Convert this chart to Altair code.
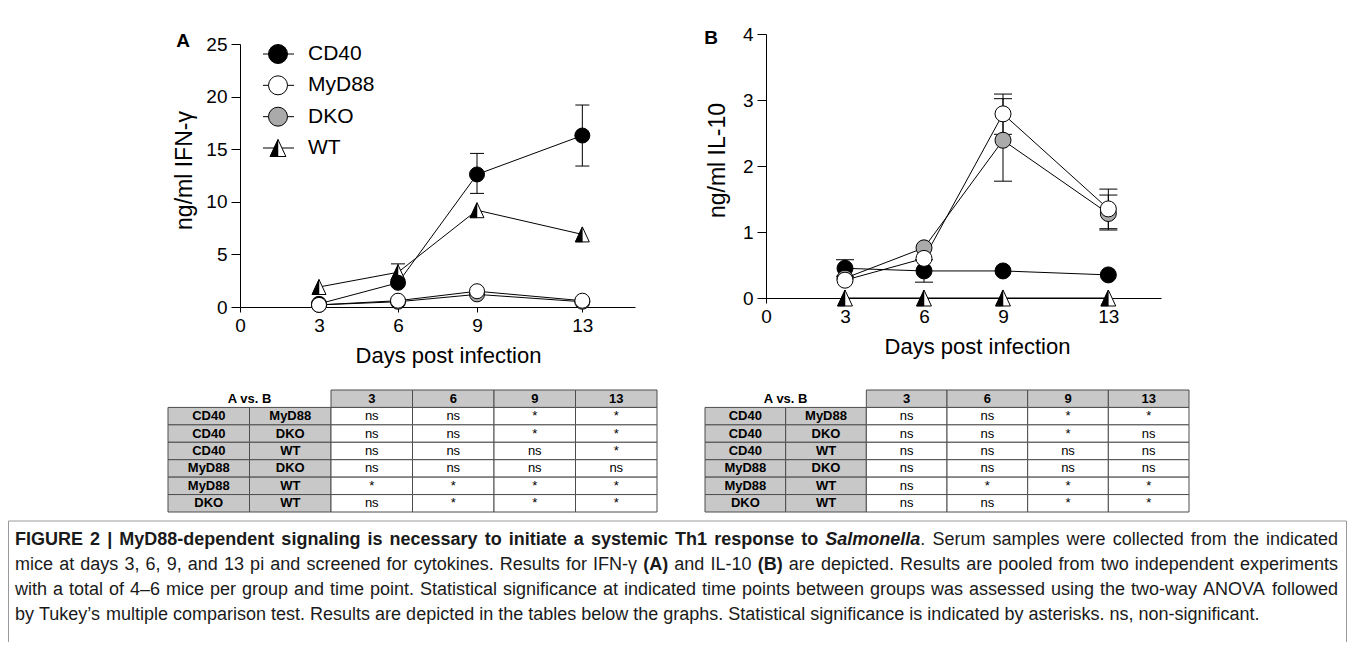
import altair as alt
import pandas as pd

FONT = "Liberation Sans"

# ---------------- data ----------------
days = [3, 6, 9, 13]
series_names = ["CD40", "MyD88", "DKO", "WT"]
draw_order = ["WT", "CD40", "DKO", "MyD88"]

# Panel A: IFN-gamma (ng/ml)
ifn_cd40 = [0.3, 2.3, 12.6, 16.3]
ifn_myd88 = [0.2, 0.6, 1.5, 0.6]
ifn_dko = [0.2, 0.5, 1.2, 0.5]
ifn_wt = [1.9, 3.3, 9.2, 6.9]

ifn_err_series = ["CD40", "CD40", "WT"]
ifn_err_day = [9, 13, 6]
ifn_err_lo = [10.8, 13.4, 2.6]
ifn_err_hi = [14.6, 19.2, 4.1]

# Panel B: IL-10 (ng/ml)
il10_cd40 = [0.45, 0.41, 0.41, 0.35]
il10_myd88 = [0.27, 0.6, 2.79, 1.35]
il10_dko = [0.3, 0.76, 2.39, 1.28]
il10_wt = [0.0, 0.0, 0.0, 0.0]

il10_err_series = ["CD40", "CD40", "MyD88", "DKO", "MyD88", "DKO"]
il10_err_day = [3, 6, 9, 9, 13, 13]
il10_err_lo = [0.33, 0.24, 2.48, 1.77, 1.05, 1.03]
il10_err_hi = [0.58, 0.58, 3.09, 3.02, 1.65, 1.56]

panel_labels = ["A", "B"]
x_ticks = [0, 3, 6, 9, 13]
ifn_ticks = [0, 5, 10, 15, 20, 25]
il10_ticks = [0, 1, 2, 3, 4]

# Tables
table_title = "A vs. B"
table_cols = ["3", "6", "9", "13"]
cmp_a = ["CD40", "CD40", "CD40", "MyD88", "MyD88", "DKO"]
cmp_b = ["MyD88", "DKO", "WT", "DKO", "WT", "WT"]
tblA_3 = ["ns", "ns", "ns", "ns", "*", "ns"]
tblA_6 = ["ns", "ns", "ns", "ns", "*", "*"]
tblA_9 = ["*", "*", "ns", "ns", "*", "*"]
tblA_13 = ["*", "*", "*", "ns", "*", "*"]
tblB_3 = ["ns", "ns", "ns", "ns", "ns", "ns"]
tblB_6 = ["ns", "ns", "ns", "ns", "*", "ns"]
tblB_9 = ["*", "*", "ns", "ns", "*", "*"]
tblB_13 = ["*", "ns", "ns", "ns", "*", "*"]

# Caption (segments with styles)
cap_line1 = [("FIGURE 2 | MyD88-dependent signaling is necessary to initiate a systemic Th1 response to ", "bold"),
             ("Salmonella", "bolditalic"),
             (". Serum samples were collected from the indicated", "normal")]
cap_line2 = [("mice at days 3, 6, 9, and 13 pi and screened for cytokines. Results for IFN-\u03b3 ", "normal"),
             ("(A)", "bold"),
             (" and IL-10 ", "normal"),
             ("(B)", "bold"),
             (" are depicted. Results are pooled from two independent experiments", "normal")]
cap_line3 = [("with a total of 4\u20136 mice per group and time point. Statistical significance at indicated time points between groups was assessed using the two-way ANOVA followed", "normal")]
cap_line4 = [("by Tukey\u2019s multiple comparison test. Results are depicted in the tables below the graphs. Statistical significance is indicated by asterisks. ns, non-significant.", "normal")]

# ---------------- layout constants (pixels) ----------------
ROW1_H = 372
ROW2_H = 136
ROW3_H = 126
PA_W, PB_W = 680, 659
TRI = "M0,-1L0.93,1L-0.93,1Z"
TRI_HALF = "M0,-1L0,1L-0.93,1Z"
FILL_DOMAIN = ["CD40", "MyD88", "DKO"]
FILL_RANGE = ["#000000", "#ffffff", "#aaaaaa"]
CELL_GRAY = "#c8c8c8"


def long_df(vals):
    rows = []
    for s, v in vals:
        for d, val in zip(days, v):
            rows.append(dict(series=s, day=d, value=val, rank=draw_order.index(s)))
    return pd.DataFrame(rows).sort_values(["rank", "day"]).reset_index(drop=True)


def err_df(ser, dd, lo, hi):
    return pd.DataFrame(dict(series=ser, day=dd, lo=lo, hi=hi))


def make_panel(df, edf, label, y_domain, y_ticks, y_title, x_rng, y_rng, height, width,
               pt_size, cap_w, lab_xy, title_x, title_y, y_title_pad, with_legend):
    x_axis = alt.Axis(values=x_ticks, orient="bottom", offset=-(height - y_rng[0]),
                      tickSize=5, tickColor="black", domainColor="black",
                      labelFontSize=19, labelFont=FONT, labelColor="black", labelPadding=4,
                      labelFlush=False, labelOverlap=False, grid=False,
                      title="Days post infection", titleFont=FONT, titleFontSize=22,
                      titleFontWeight="normal", titleColor="black", titlePadding=10,
                      titleX=title_x)
    y_axis = alt.Axis(values=y_ticks, orient="left", offset=-x_rng[0],
                      tickSize=9, tickColor="black", domainColor="black",
                      labelFontSize=19, labelFont=FONT, labelColor="black", labelPadding=4,
                      labelFlush=False, labelOverlap=False, grid=False, minExtent=0,
                      title=y_title, titleFont=FONT, titleFontSize=23,
                      titleFontWeight="normal", titleColor="black", titlePadding=y_title_pad,
                      titleY=title_y)
    xs = alt.Scale(domain=[0, 15], range=x_rng, nice=False, zero=False)
    ys = alt.Scale(domain=y_domain, range=y_rng, nice=False, zero=False)
    X = alt.X("day:Q", scale=xs, axis=x_axis)

    def Y(f):
        return alt.Y(f, scale=ys, axis=y_axis)

    fill = alt.Fill("series:N", scale=alt.Scale(domain=FILL_DOMAIN, range=FILL_RANGE), legend=None)

    lines = alt.Chart(df).mark_line(color="black", strokeWidth=1).encode(
        x=X, y=Y("value:Q"), detail="series:N", order="day:Q")
    ed = alt.Chart(edf)
    bars = ed.mark_rule(color="black", strokeWidth=1).encode(x=X, y=Y("lo:Q"), y2="hi:Q")
    cap_lo = ed.mark_tick(orient="horizontal", size=cap_w, thickness=1, color="black", opacity=1).encode(
        x=X, y=Y("lo:Q"))
    cap_hi = ed.mark_tick(orient="horizontal", size=cap_w, thickness=1, color="black", opacity=1).encode(
        x=X, y=Y("hi:Q"))
    circ = alt.Chart(df[df.series != "WT"]).mark_point(
        shape="circle", filled=True, size=pt_size, stroke="black", strokeWidth=1, opacity=1).encode(
        x=X, y=Y("value:Q"), fill=fill, order=alt.Order("rank:Q"))
    wt = df[df.series == "WT"]
    tri = alt.Chart(wt).mark_point(shape=TRI, filled=True, fill="white", stroke="black",
                                   strokeWidth=1, size=pt_size, opacity=1).encode(x=X, y=Y("value:Q"))
    tri_h = alt.Chart(wt).mark_point(shape=TRI_HALF, filled=True, fill="black", stroke="black",
                                     strokeWidth=0.5, size=pt_size, opacity=1).encode(x=X, y=Y("value:Q"))
    main = alt.layer(lines, bars, cap_lo, cap_hi, tri, tri_h, circ)

    lab = alt.Chart(pd.DataFrame({"label": [label]})).mark_text(
        font=FONT, fontSize=19, fontWeight="bold", color="black", align="center", baseline="middle").encode(
        x=alt.value(lab_xy[0]), y=alt.value(lab_xy[1]), text="label:N")

    layers = [main]
    if with_legend:
        leg = pd.DataFrame({"series": series_names})
        ly = alt.Y("series:N", scale=alt.Scale(type="point", domain=series_names, range=[46, 140], padding=0),
                   axis=None)
        lrule = alt.Chart(leg).mark_rule(color="black", strokeWidth=1).encode(
            x=alt.value(255), x2=alt.value(286), y=ly)
        lcirc = alt.Chart(leg[leg.series != "WT"]).mark_point(
            shape="circle", filled=True, size=361, stroke="black", strokeWidth=1, opacity=1).encode(
            x=alt.value(270), y=ly, fill=fill)
        lwt = leg[leg.series == "WT"]
        ltri = alt.Chart(lwt).mark_point(shape=TRI, filled=True, fill="white", stroke="black",
                                         strokeWidth=1, size=289, opacity=1).encode(x=alt.value(270), y=ly)
        ltri_h = alt.Chart(lwt).mark_point(shape=TRI_HALF, filled=True, fill="black", stroke="black",
                                           strokeWidth=0.5, size=289, opacity=1).encode(x=alt.value(270), y=ly)
        ltext = alt.Chart(leg).mark_text(font=FONT, fontSize=21, color="black", align="left",
                                         baseline="middle").encode(x=alt.value(300), y=ly, text="series:N")
        layers.append(alt.layer(lrule, lcirc, ltri, ltri_h, ltext))
    layers.append(lab)
    return alt.layer(*layers).resolve_scale(y="independent").properties(width=width, height=height)


dfA = long_df([("CD40", ifn_cd40), ("MyD88", ifn_myd88), ("DKO", ifn_dko), ("WT", ifn_wt)])
dfB = long_df([("CD40", il10_cd40), ("MyD88", il10_myd88), ("DKO", il10_dko), ("WT", il10_wt)])
eA = err_df(ifn_err_series, ifn_err_day, ifn_err_lo, ifn_err_hi)
eB = err_df(il10_err_series, il10_err_day, il10_err_lo, il10_err_hi)

panelA = make_panel(dfA, eA, panel_labels[0], [0, 25], ifn_ticks, "ng/ml IFN-\u03b3",
                    [232, 627], [299, 36], ROW1_H, PA_W, 225, 14, (175, 33), 440, 162, 9, True)
panelB = make_panel(dfB, eB, panel_labels[1], [0, 4], il10_ticks, "ng/ml IL-10",
                    [78, 473], [290, 26], ROW1_H, PB_W, 256, 18, (23, 30), 289, 152, 13, False)


# ---------------- tables ----------------
def make_table(cols_vals, width, left, right):
    xs = alt.Scale(domain=[0, 6], range=[left, right], nice=False, zero=False)
    ys = alt.Scale(domain=[0, 7], range=[10, 132], nice=False, zero=False)
    cells = []
    for j, d in enumerate(table_cols):
        cells.append(dict(c0=2 + j, c1=3 + j, r0=0, r1=1, kind="head", text=d, bold=True))
    for i in range(len(cmp_a)):
        cells.append(dict(c0=0, c1=1, r0=i + 1, r1=i + 2, kind="label", text=cmp_a[i], bold=True))
        cells.append(dict(c0=1, c1=2, r0=i + 1, r1=i + 2, kind="label", text=cmp_b[i], bold=True))
        for j, col in enumerate(cols_vals):
            cells.append(dict(c0=2 + j, c1=3 + j, r0=i + 1, r1=i + 2, kind="cell", text=col[i], bold=False))
    df = pd.DataFrame(cells)
    df["cx"] = (df.c0 + df.c1) / 2
    df["cy"] = (df.r0 + df.r1) / 2
    df["fillc"] = df["kind"].map({"head": CELL_GRAY, "label": CELL_GRAY, "cell": "#ffffff"})
    hdr = pd.DataFrame([dict(cx=1.0, cy=0.5, text=table_title)])

    def XS(f):
        return alt.X(f, scale=xs, axis=None)

    def YS(f):
        return alt.Y(f, scale=ys, axis=None)

    rect = alt.Chart(df).mark_rect(stroke="#4d4d4d", strokeWidth=1).encode(
        x=XS("c0:Q"), x2="c1:Q", y=YS("r0:Q"), y2="r1:Q",
        fill=alt.Fill("fillc:N", scale=None))
    tb = alt.Chart(df[df.bold]).mark_text(font=FONT, fontSize=13, fontWeight="bold", color="black",
                                          baseline="middle").encode(x=XS("cx:Q"), y=YS("cy:Q"), text="text:N")
    tn = alt.Chart(df[~df.bold]).mark_text(font=FONT, fontSize=13, color="black",
                                           baseline="middle").encode(x=XS("cx:Q"), y=YS("cy:Q"), text="text:N")
    th = alt.Chart(hdr).mark_text(font=FONT, fontSize=13, fontWeight="bold", color="black",
                                  baseline="middle").encode(x=XS("cx:Q"), y=YS("cy:Q"), text="text:N")
    return alt.layer(rect, tb, tn, th).properties(width=width, height=ROW2_H)


tableA = make_table([tblA_3, tblA_6, tblA_9, tblA_13], PA_W, 160, 649)
tableB = make_table([tblB_3, tblB_6, tblB_9, tblB_13], PB_W, 17, 501)

# ---------------- caption (justified, using Arial/Liberation Sans metrics) ----------------
REG = dict(zip("ABCDEFGHIJKLMNOPQRSTUVWXYZ",
               [667, 667, 722, 722, 667, 611, 778, 722, 278, 500, 667, 556, 833, 722, 778, 667, 778, 722, 667,
                611, 722, 667, 944, 667, 667, 611]))
REG.update(zip("abcdefghijklmnopqrstuvwxyz",
               [556, 556, 500, 556, 556, 278, 556, 556, 222, 222, 500, 222, 833, 556, 556, 556, 556, 333, 500,
                278, 556, 500, 722, 500, 500, 500]))
REG.update({" ": 278, ".": 278, ",": 278, "-": 333, "|": 260, "(": 333, ")": 333, "\u2019": 222,
            "\u2013": 556, "\u03b3": 500})
REG.update({str(d): 556 for d in range(10)})
BOLD = dict(zip("ABCDEFGHIJKLMNOPQRSTUVWXYZ",
                [722, 722, 722, 722, 667, 611, 778, 722, 278, 556, 722, 611, 833, 722, 778, 667, 778, 722, 667,
                 611, 722, 667, 944, 667, 667, 611]))
BOLD.update(zip("abcdefghijklmnopqrstuvwxyz",
                [556, 611, 556, 611, 556, 333, 611, 611, 278, 278, 556, 278, 889, 611, 611, 611, 611, 389, 556,
                 333, 611, 556, 778, 556, 556, 500]))
BOLD.update({" ": 278, ".": 278, ",": 278, "-": 333, "|": 280, "(": 333, ")": 333})
BOLD.update({str(d): 556 for d in range(10)})
CAP_SIZE = 18
CAP_LEFT, CAP_RIGHT = 7, 1330
line_y = [24, 49, 74, 99]


def tok_width(t, style):
    tbl = REG if style == "normal" else BOLD
    return sum(tbl.get(c, 556) for c in t) * CAP_SIZE / 1000.0


def layout_line(line, justify):
    toks, gap = [], False
    for text, style in line:
        cur = ""
        for ch in text:
            if ch == " ":
                if cur:
                    toks.append([cur, style, gap])
                    cur = ""
                    gap = False
                gap = True
            else:
                cur += ch
        if cur:
            toks.append([cur, style, gap])
            gap = False
    toks[0][2] = False
    space = 278 * CAP_SIZE / 1000.0
    widths = [tok_width(t, s) for t, s, g in toks]
    ngaps = sum(1 for t in toks if t[2])
    natural = sum(widths) + ngaps * space
    gw = space
    if justify and ngaps:
        gw = space + (CAP_RIGHT - CAP_LEFT - natural) / ngaps
    x = CAP_LEFT
    out = []
    for (t, s, g), w in zip(toks, widths):
        if g:
            x += gw
        out.append((t, s, x))
        x += w
    return out


rows = []
for li, (line, just) in enumerate([(cap_line1, True), (cap_line2, True), (cap_line3, True), (cap_line4, False)]):
    for t, s, x in layout_line(line, just):
        rows.append(dict(text=t, style=s, x=x, y=line_y[li]))
cap = pd.DataFrame(rows)


def cap_layer(sty, weight, fstyle):
    return alt.Chart(cap[cap["style"] == sty]).mark_text(
        font=FONT, fontSize=CAP_SIZE, fontWeight=weight, fontStyle=fstyle, color="#1a1a1a",
        align="left", baseline="middle").encode(
        x=alt.X("x:Q", scale=None), y=alt.Y("y:Q", scale=None), text="text:N")


box = pd.DataFrame({"k": [0]})
box_left = alt.Chart(box).mark_rule(color="#9a9a9a", strokeWidth=1).encode(
    x=alt.value(0.5), y=alt.value(5), y2=alt.value(ROW3_H))
box_right = alt.Chart(box).mark_rule(color="#9a9a9a", strokeWidth=1).encode(
    x=alt.value(1338.5), y=alt.value(5), y2=alt.value(ROW3_H))
box_top = alt.Chart(box).mark_rule(color="#9a9a9a", strokeWidth=1).encode(
    x=alt.value(0.5), x2=alt.value(1338.5), y=alt.value(5))

caption = alt.layer(
    box_left, box_right, box_top,
    cap_layer("normal", "normal", "normal"),
    cap_layer("bold", "bold", "normal"),
    cap_layer("bolditalic", "bold", "italic"),
).properties(width=PA_W + PB_W, height=ROW3_H)

chart = alt.vconcat(
    alt.hconcat(panelA, panelB, spacing=0),
    alt.hconcat(tableA, tableB, spacing=0),
    caption,
    spacing=0,
).properties(padding=0).configure(font=FONT).configure_view(strokeWidth=0, stroke="transparent")

chart.save("out.html", embed_options={"renderer": "svg", "actions": False})
